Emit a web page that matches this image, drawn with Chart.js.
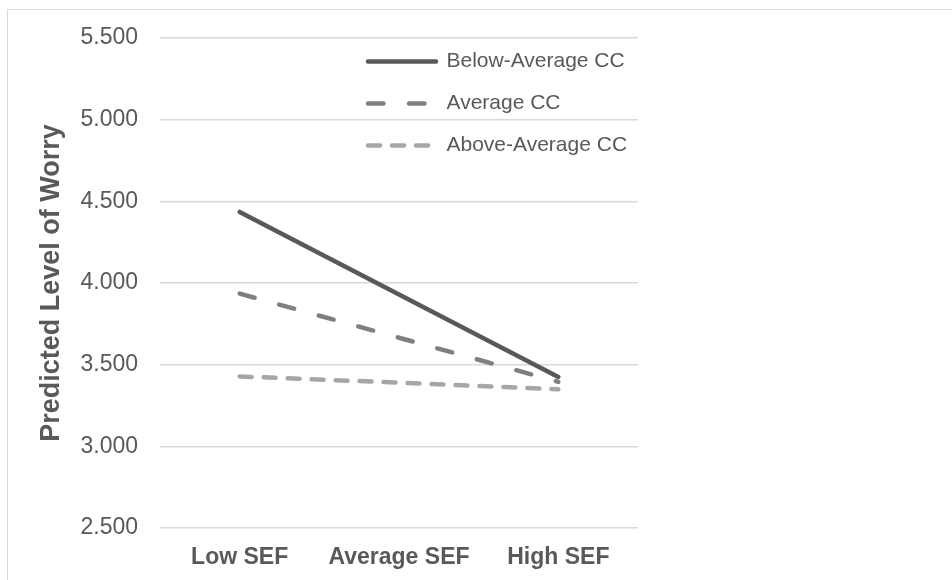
<!DOCTYPE html>
<html>
<head>
<meta charset="utf-8">
<script src="https://cdn.jsdelivr.net/npm/chart.js@4.4.1/dist/chart.umd.min.js"></script>
<style>
  html, body { margin: 0; padding: 0; background: #fff; overflow: hidden; }
  #frame {
    position: absolute; left: 7px; top: 9px; width: 1000px; height: 700px;
    border: 1.5px solid #d9d9d9; box-sizing: border-box;
  }
  #wrap { position: absolute; left: 0; top: 0; width: 952px; height: 580px; }
</style>
</head>
<body>
<div id="frame"></div>
<div id="wrap"><canvas id="chart" width="952" height="580"></canvas></div>
<script>
// categories + series
const categories = ["Low SEF", "Average SEF", "High SEF"];
const belowAvgCC = [4.435, 3.93, 3.425];
const avgCC = [3.935, 3.665, 3.395];
const aboveAvgCC = [3.428, 3.39, 3.349];
const seriesNames = ["Below-Average CC", "Average CC", "Above-Average CC"];
const yTicks = [2.5, 3.0, 3.5, 4.0, 4.5, 5.0, 5.5];

const textGray = "#595959";
const font = "'Liberation Sans', Arial, sans-serif";

// move the legend into the plot, top right like the original
const legendSpot = {
  id: "legendSpot",
  afterLayout(chart) {
    const lg = chart.legend;
    if (!lg) return;
    const w = lg.width, h = lg.height;
    lg.left = 347;
    lg.top = 30;
    lg.right = lg.left + w;
    lg.bottom = lg.top + h;
  }
};

// legend samples should use the dataset's dash + caps, not the point style
function legendLabels(chart) {
  const items = Chart.defaults.plugins.legend.labels.generateLabels(chart);
  items.forEach(item => {
    const ds = chart.data.datasets[item.datasetIndex];
    item.lineDash = ds.borderDash || [];
    item.lineCap = ds.borderCapStyle;
    item.lineWidth = ds.borderWidth;
    item.strokeStyle = ds.borderColor;
  });
  return items;
}

new Chart(document.getElementById("chart"), {
  type: "line",
  data: {
    labels: categories,
    datasets: [
      {
        label: seriesNames[0],
        data: belowAvgCC,
        borderColor: "#595959",
        backgroundColor: "#595959",
        borderWidth: 4.5,
        borderCapStyle: "round"
      },
      {
        label: seriesNames[1],
        data: avgCC,
        borderColor: "#7f7f7f",
        backgroundColor: "#7f7f7f",
        borderWidth: 4.5,
        borderCapStyle: "round",
        borderDash: [15.5, 25.5]
      },
      {
        label: seriesNames[2],
        data: aboveAvgCC,
        borderColor: "#a6a6a6",
        backgroundColor: "#a6a6a6",
        borderWidth: 4.5,
        borderCapStyle: "round",
        borderDash: [12, 12]
      }
    ]
  },
  options: {
    responsive: false,
    animation: false,
    layout: { padding: { left: 0, right: 314, top: 38, bottom: 0 } },
    elements: { point: { radius: 0, hoverRadius: 0 }, line: { tension: 0 } },
    plugins: {
      tooltip: { enabled: false },
      legend: {
        position: "chartArea",
        align: "start",
        labels: {
          usePointStyle: true,
          pointStyle: "line",
          pointStyleWidth: 68,
          padding: 21,
          color: textGray,
          font: { family: font, size: 21 },
          generateLabels: legendLabels
        }
      }
    },
    scales: {
      x: {
        offset: true,
        grid: { display: false },
        border: { display: false },
        ticks: {
          padding: 8,
          color: textGray,
          font: { family: font, size: 23, weight: "bold" }
        },
        afterFit(scale) { scale.height = 52; }
      },
      y: {
        min: yTicks[0],
        max: yTicks[yTicks.length - 1],
        afterBuildTicks(scale) { scale.ticks = yTicks.map(v => ({ value: v })); },
        grid: { color: "#d9d9d9", lineWidth: 1.5, drawTicks: false },
        border: { display: false },
        ticks: {
          padding: 22,
          color: textGray,
          font: { family: font, size: 23 },
          callback: v => Number(v).toFixed(3)
        },
        title: {
          display: true,
          text: "Predicted Level of Worry",
          color: textGray,
          padding: { top: 35, bottom: 0 },
          font: { family: font, size: 27, weight: "bold" }
        },
        afterFit(scale) { scale.width = 160; }
      }
    }
  },
  plugins: [legendSpot]
});
</script>
</body>
</html>
